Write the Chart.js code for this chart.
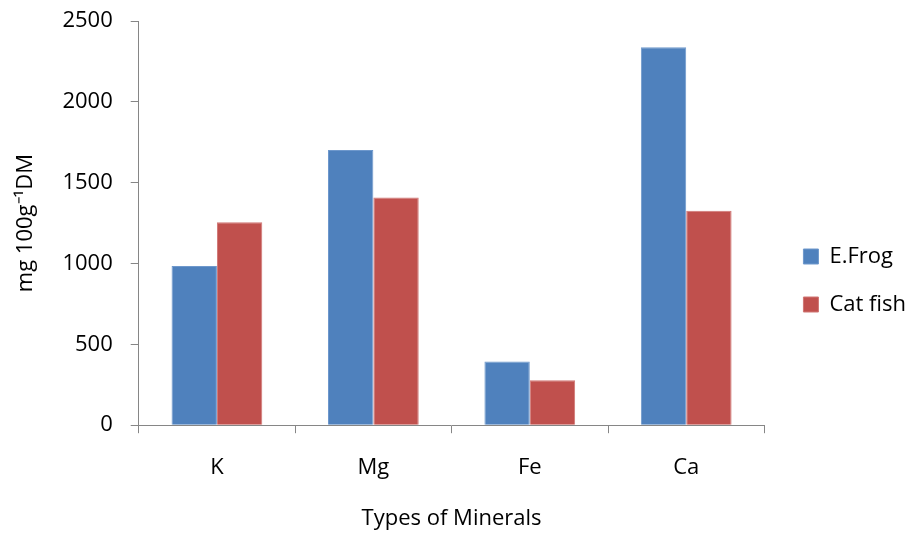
<!DOCTYPE html>
<html>
<head>
<meta charset="utf-8">
<script src="https://cdn.jsdelivr.net/npm/chart.js@4"></script>
<style>
  html, body { margin: 0; padding: 0; background: #fff; }
  #wrap { width: 907px; height: 535px; }
</style>
</head>
<body>
<div id="wrap"><canvas id="c" width="907" height="535"></canvas></div>
<script>
const categories = ['K', 'Mg', 'Fe', 'Ca'];
const frogValues = [985, 1702, 394, 2337];
const catfishValues = [1255, 1408, 278, 1327];
const seriesNames = ['E.Frog', 'Cat fish'];
const yTicks = [0, 500, 1000, 1500, 2000, 2500];

const FONT = 'Open Sans';
const AXIS = '#868686';

const legendNudge = {
  id: 'legendNudge',
  afterLayout(chart) {
    const lg = chart.legend;
    if (!lg) return;
    const dx = 13, dy = 4;
    lg.left += dx; lg.right += dx;
    lg.top += dy; lg.bottom += dy;
  }
};

new Chart(document.getElementById('c'), {
  type: 'bar',
  data: {
    labels: categories,
    datasets: [
      { label: seriesNames[0], data: frogValues, backgroundColor: '#4F81BD', borderColor: '#6E98CC', borderWidth: 1 },
      { label: seriesNames[1], data: catfishValues, backgroundColor: '#C0504D', borderColor: '#D07674', borderWidth: 1 }
    ]
  },
  options: {
    responsive: false,
    animation: false,
    devicePixelRatio: 1,
    layout: { padding: { top: 21, left: 10, right: 4, bottom: 3 } },
    datasets: { bar: { categoryPercentage: 0.58, barPercentage: 1.0 } },
    plugins: {
      tooltip: { enabled: false },
      legend: {
        position: 'right',
        labels: {
          font: { family: FONT, size: 22 },
          color: '#000',
          boxWidth: 15,
          boxHeight: 15,
          padding: 26
        }
      }
    },
    scales: {
      x: {
        grid: { display: true, drawOnChartArea: false, drawTicks: true, tickLength: 8, color: AXIS, offset: true },
        border: { display: true, color: AXIS, width: 1 },
        ticks: { font: { family: FONT, size: 22 }, color: '#000', padding: 21 },
        title: { display: true, text: 'Types of Minerals', font: { family: FONT, size: 22 }, color: '#000', padding: { top: 4, bottom: 0 } }
      },
      y: {
        min: 0, max: 2500,
        afterBuildTicks(scale) { scale.ticks = yTicks.map(v => ({ value: v })); },
        afterFit(scale) { scale.paddingTop = 0; },
        grid: { display: true, drawOnChartArea: false, drawTicks: true, tickLength: 8, color: AXIS },
        border: { display: true, color: AXIS, width: 1 },
        ticks: { font: { family: FONT, size: 22 }, color: '#000', padding: 18, callback: v => String(v) },
        title: { display: true, text: 'mg 100g\u207B\u00B9DM', font: { family: FONT, size: 22 }, color: '#000', padding: { top: 3, bottom: 5 } }
      }
    }
  },
  plugins: [legendNudge]
});
</script>
</body>
</html>
